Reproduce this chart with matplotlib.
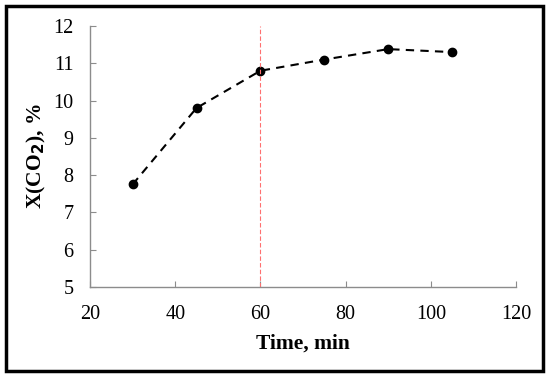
import matplotlib
matplotlib.use('Agg')
import matplotlib.pyplot as plt
from matplotlib.patches import Rectangle

time_min = [30, 45, 60, 75, 90, 105]
x_co2 = [7.75, 9.8, 10.8, 11.1, 11.38, 11.3]
x_ticks = [20, 40, 60, 80, 100, 120]
y_ticks = [5, 6, 7, 8, 9, 10, 11, 12]
marker_time = 60

plt.rcParams['font.family'] = ['Liberation Serif', 'DejaVu Serif']

fig = plt.figure(figsize=(5.5, 3.77), dpi=100)
ax = fig.add_axes([90/550, 1-287/377, 426/550, 261/377])

ax.plot(time_min, x_co2, 'k--', marker='o', markersize=6, linewidth=1.5, dashes=(4, 3))
ax.axvline(marker_time, color='#ff7070', linestyle='--', linewidth=0.8, dashes=(4, 2))

ax.set_xlim(20, 120)
ax.set_ylim(5, 12)
ax.set_xticks(x_ticks)
ax.set_yticks(y_ticks)

for s in ['top', 'right']:
  ax.spines[s].set_visible(False)
for s in ['left', 'bottom']:
  ax.spines[s].set_color('#8c8c8c')
  ax.spines[s].set_linewidth(1.0)
ax.tick_params(direction='in', length=4, color='#8c8c8c', labelsize=14.5)
ax.tick_params(axis='x', pad=13)
ax.tick_params(axis='y', pad=12)

ax.set_xlabel('Time, min', fontsize=15.5, fontweight='bold')
ax.xaxis.set_label_coords(0.5, -0.18)
ax.set_ylabel('X(CO$_\\mathbf{2}$), %', fontsize=15.5, fontweight='bold')
ax.yaxis.set_label_coords(-0.098, 0.5)

fig.add_artist(Rectangle((6/550, 1-371/377), 537/550, 365/377, transform=fig.transFigure,
                         fill=False, edgecolor='black', linewidth=2.5))

plt.savefig('out.png', dpi=100)
